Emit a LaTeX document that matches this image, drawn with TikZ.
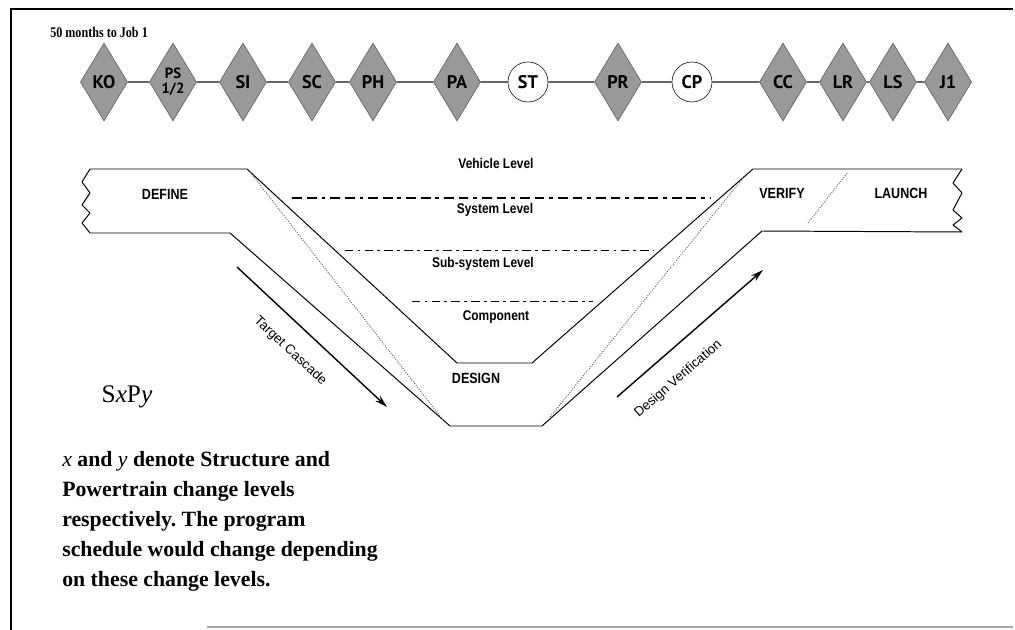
\documentclass[tikz,border=0pt]{standalone}
\usepackage{fontspec}
\setmainfont{Liberation Serif}
\newfontfamily\leadfont[FakeStretch=0.82]{Liberation Serif}
\newfontfamily\tagfont{PT Sans}
\newfontfamily\bandfont[FakeStretch=0.85]{Liberation Sans}
\newfontfamily\arrowfont{Liberation Sans}
\usetikzlibrary{arrows.meta,positioning,shapes.geometric}
\frenchspacing

\begin{document}
\begin{tikzpicture}[x=0.025cm,y=-0.025cm,
mile/.style={diamond,shape aspect=0.6,draw=black!65,fill=black!40,inner sep=0pt,minimum width=1.18cm,minimum height=1.95cm,align=center,font=\tagfont\bfseries\fontsize{13}{13}\selectfont},
gate/.style={circle,draw,fill=white,inner sep=0pt,minimum size=1cm,font=\tagfont\bfseries\fontsize{13}{13}\selectfont},
link/.style={draw=black!60,line width=0.9pt},
band/.style={line width=0.7pt,line join=round},
phase/.style={font=\bandfont\bfseries\fontsize{10.5}{12}\selectfont},
level/.style={font=\bandfont\bfseries\fontsize{10}{12}\selectfont},
tier/.style={line width=0.6pt,dash pattern=on 6pt off 3pt on 2pt off 3pt},
trace/.style={black!60,densely dotted,line width=0.7pt},
flow/.style={line width=1pt,-{Stealth[length=9pt,width=5pt]}},
flowtext/.style={font=\arrowfont\fontsize{9.5}{11}\selectfont,inner sep=1pt}]
\useasboundingbox (0,0) rectangle (1015,630);
% frame
\draw[line width=1.2pt] (11,630) -- (11,9);
\draw[line width=2pt] (10,9) -- (1013,9);
\draw[black!35,line width=0.8pt] (207,627) -- (1013,627);
\node[anchor=west,inner sep=0pt,font=\leadfont\bfseries\fontsize{10.5}{12}\selectfont] (lead) at (50,32) {50 months to Job 1};
% milestones
\node[mile] (ko) at (104,82) {KO};
\node[mile,font=\tagfont\bfseries\fontsize{10.5}{10.5}\selectfont] (ps) at (173,82) {PS\\1/2};
\node[mile] (si) at (243,82) {SI};
\node[mile] (sc) at (312,82) {SC};
\node[mile] (ph) at (373,82) {PH};
\node[mile] (pa) at (457,82) {PA};
\node[gate] (st) at (528,82) {ST};
\node[mile] (pr) at (618,82) {PR};
\node[gate] (cp) at (692,82) {CP};
\node[mile] (cc) at (783,82) {CC};
\node[mile] (lr) at (843,82) {LR};
\node[mile] (ls) at (893,82) {LS};
\node[mile] (j1) at (948,82) {J1};
\draw[link](ko)--(ps);\draw[link](ps)--(si);\draw[link](si)--(sc);\draw[link](sc)--(ph);
\draw[link](ph)--(pa);\draw[link](pa)--(st);\draw[link](st)--(pr);\draw[link](pr)--(cp);
\draw[link](cp)--(cc);\draw[link](cc)--(lr);\draw[link](lr)--(ls);\draw[link](ls)--(j1);
% the V band
\draw[band] (90,169) -- (247,169) -- (457,363) -- (532,363) -- (753,169) -- (962,169);
\draw[band] (90,233) -- (230,233) -- (450,426) -- (542,426) -- (762,231) -- (962,232);
\draw[band] (90,169) -- (82,182) -- (90,193) -- (82,205) -- (90,213) -- (82,223) -- (90,233);
\draw[band] (962,169) -- (953,183) -- (962,193) -- (953,210) -- (962,218) -- (953,225) -- (962,232);
\draw[trace] (250,172) -- (443,420);
\draw[trace] (550,417) -- (743,178);
\draw[trace] (808,223) -- (848,172);
\draw[line width=1.2pt,dash pattern=on 7pt off 3.5pt on 7pt off 3.5pt on 2.5pt off 3.5pt] (292,198) -- (710,198);
\draw[tier] (345,250) -- (653,250);
\draw[tier] (412,301) -- (593,301);
\node[phase] (define) at (165,194) {DEFINE};
\node[phase] (design) at (476,378) {DESIGN};
\node[phase] (verify) at (782,193) {VERIFY};
\node[phase] (launch) at (901,193) {LAUNCH};
\node[level] (vehicle) at (496,163) {Vehicle Level};
\node[level] (system) at (495,210) {System Level};
\node[level] (subsys) at (483,264) {Sub-system Level};
\node[level] (comp) at (496,317) {Component};
% cascade arrows
\coordinate (tcA) at (237,267); \coordinate (tcB) at (387,407);
\coordinate (dvA) at (617,397); \coordinate (dvB) at (763,270);
\draw[flow] (tcA) -- node[flowtext,pos=0.47,sloped,below=12pt] (tclabel) {Target Cascade} (tcB);
\draw[flow] (dvA) -- node[flowtext,pos=0.3,sloped,below=13pt] (dvlabel) {Design Verification} (dvB);
% change level note
\node[font=\fontsize{18}{20}\selectfont] (sxpy) at (127,397) {S\textit{x}P\textit{y}};
\node[anchor=north west,align=left,inner sep=0pt,font=\bfseries\fontsize{15.5}{21.3}\selectfont] (note) at (62,451)
{{\mdseries\itshape x} and {\mdseries\itshape y} denote Structure and\\Powertrain change levels\\respectively. The program\\schedule would change depending\\on these change levels.};
\end{tikzpicture}
\end{document}
